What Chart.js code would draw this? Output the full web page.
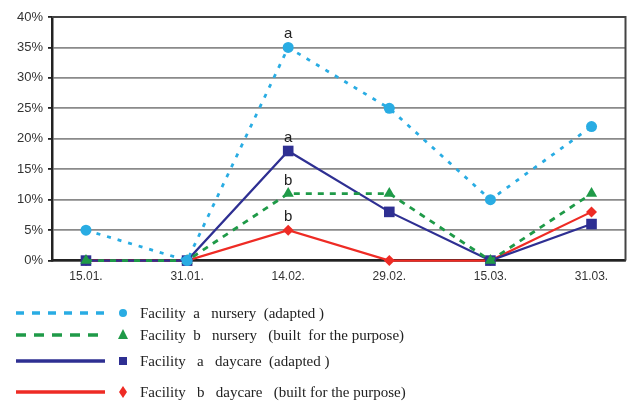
<!DOCTYPE html>
<html><head><meta charset="utf-8">
<script src="https://cdn.jsdelivr.net/npm/chart.js@4"></script>
<style>
html,body{margin:0;padding:0;background:#fff;}
#wrap{position:relative;width:633px;height:401px;}
#legend{position:absolute;left:0;top:0;width:633px;height:401px;pointer-events:none;}
.row{position:absolute;left:14px;height:20px;display:flex;align-items:center;font-family:"Liberation Serif","DejaVu Serif",serif;font-size:15px;color:#222;white-space:pre;}
.row svg{display:block;}
</style></head>
<body><div id="wrap"><canvas id="c" width="633" height="401"></canvas><div id="legend"></div></div>
<script>
const categories = ["15.01.","31.01.","14.02.","29.02.","15.03.","31.03."];
const nurseryA = [5, 0, 35, 25, 10, 22];
const nurseryB = [0, 0, 11, 11, 0, 11];
const daycareA = [0, 0, 18, 8, 0, 6];
const daycareB = [0, 0, 5, 0, 0, 8];
const seriesNames = [
  "Facility  a   nursery  (adapted )",
  "Facility  b   nursery   (built  for the purpose)",
  "Facility   a   daycare  (adapted )",
  "Facility   b   daycare   (built for the purpose)"
];
const yTicks = [0,5,10,15,20,25,30,35,40];
const letterLabels = [
  {series:0, index:2, text:"a"},
  {series:2, index:2, text:"a"},
  {series:1, index:2, text:"b"},
  {series:3, index:2, text:"b"}
];

const styles = [
  {color:"#29ace3", dash:[4,7], point:"circle", r:5.5, width:2.8},
  {color:"#1f9a48", dash:[6,6], point:"triangle", r:6.5, width:2.8},
  {color:"#2e2f92", dash:[], point:"rect", r:7.5, width:2.2},
  {color:"#ee2b24", dash:[], point:"rectRot", r:5.5, width:2.2}
];
const allValues = [nurseryA, nurseryB, daycareA, daycareB];

const datasets = allValues.map((vals, s) => ({
  label: seriesNames[s],
  data: vals.map((v,i)=>({x:i,y:v})),
  borderColor: styles[s].color,
  backgroundColor: styles[s].color,
  borderDash: styles[s].dash,
  borderWidth: styles[s].width,
  pointStyle: styles[s].point,
  pointRadius: styles[s].r,
  pointBorderWidth: 0,
  tension: 0,
  fill: false,
  clip: false,
  order: s + 1
}));

const framePlugin = {
  id:'frame',
  beforeDatasetsDraw(chart){
    const a = chart.chartArea, ctx = chart.ctx;
    ctx.save();
    ctx.strokeStyle = "#444"; ctx.lineWidth = 2;
    ctx.beginPath();
    ctx.moveTo(a.left, a.top); ctx.lineTo(a.right, a.top); ctx.lineTo(a.right, a.bottom);
    ctx.stroke();
    ctx.restore();
  },
  afterDatasetsDraw(chart){
    const ctx = chart.ctx;
    ctx.save();
    ctx.font = "15px Arial, 'Liberation Sans', sans-serif";
    ctx.fillStyle = "#222"; ctx.textAlign = "center"; ctx.textBaseline = "alphabetic";
    letterLabels.forEach(l => {
      const p = chart.getDatasetMeta(l.series).data[l.index];
      ctx.fillText(l.text, p.x, p.y - 9);
    });
    ctx.restore();
  }
};

new Chart(document.getElementById('c'), {
  type:'line',
  data:{datasets},
  options:{
    responsive:false, animation:false,
    layout:{padding:{top:17,right:6,bottom:108,left:0}},
    plugins:{legend:{display:false}, tooltip:{enabled:false}},
    scales:{
      x:{type:'linear', min:-0.336, max:5.336,
        afterBuildTicks:(s)=>{s.ticks = categories.map((_,i)=>({value:i}));},
        grid:{display:false, drawTicks:false},
        border:{display:true, color:"#222", width:2.5},
        ticks:{callback:(v)=>categories[v], font:{family:"Arial, 'Liberation Sans'", size:12}, color:"#333", padding:9, maxRotation:0, autoSkip:false}
      },
      y:{min:0, max:40,
        afterBuildTicks:(s)=>{s.ticks = yTicks.map(v=>({value:v}));},
        afterFit:(s)=>{s.width = 52;},
        grid:{color:"#8a8a8a", lineWidth:1.8, tickLength:4, drawTicks:true, tickColor:"#222"},
        border:{display:true, color:"#222", width:2.5},
        ticks:{callback:(v)=>v+"%", font:{family:"Arial, 'Liberation Sans'", size:13}, color:"#333", padding:5}
      }
    }
  },
  plugins:[framePlugin]
});

const legend = document.getElementById('legend');
const rowY = [303, 325, 351, 382];
seriesNames.forEach((name, s) => {
  const st = styles[s];
  const row = document.createElement('div');
  row.className = 'row';
  row.style.top = rowY[s] + 'px';
  const dash = s===0 ? '8,8' : (s===1 ? '10,8' : '');
  let marker = '';
  const mx = 109, my = 10;
  if (st.point==='circle') marker = `<circle cx="${mx}" cy="${my}" r="4" fill="${st.color}"/>`;
  else if (st.point==='triangle') marker = `<polygon points="${mx},${my-6} ${mx+5},${my+4} ${mx-5},${my+4}" fill="${st.color}"/>`;
  else if (st.point==='rect') marker = `<rect x="${mx-4}" y="${my-4}" width="8" height="8" fill="${st.color}"/>`;
  else marker = `<polygon points="${mx},${my-6} ${mx+4},${my} ${mx},${my+6} ${mx-4},${my}" fill="${st.color}"/>`;
  row.innerHTML = `<svg width="126" height="20"><line x1="2" y1="10" x2="91" y2="10" stroke="${st.color}" stroke-width="3.5" ${dash?`stroke-dasharray="${dash}"`:''}/>${marker}</svg><span>${name}</span>`;
  legend.appendChild(row);
});
</script></body></html>
